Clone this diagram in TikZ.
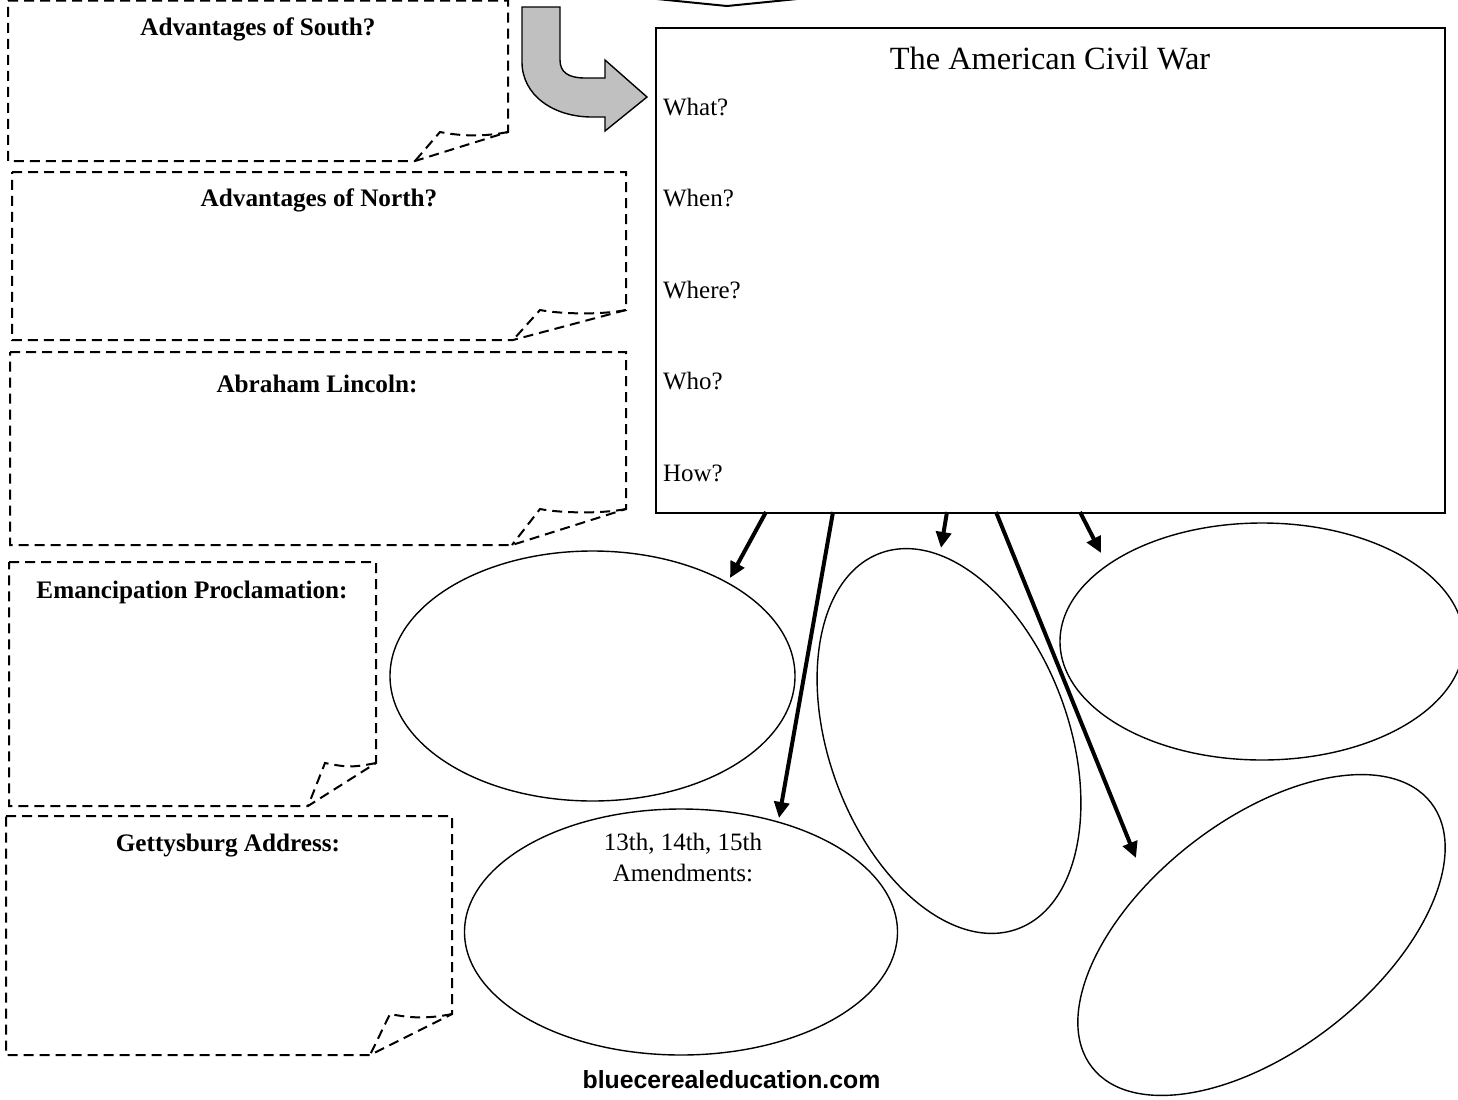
\documentclass[tikz,border=0pt]{standalone}
\usepackage{fontspec}
\setmainfont{Liberation Serif}
\newfontfamily\webfont{Liberation Sans}
\usetikzlibrary{arrows.meta,shapes.geometric}
\definecolor{curlgray}{HTML}{C0C0C0}

% dashed note with a folded corner: x0,y0,x1,y1, fold y, fold x, flap x
\newcommand{\notebox}[7]{%
  \draw[note] (#1,#2) -- (#3,#2) -- (#3,#5) -- (#6,#4) -- (#1,#4) -- cycle;
  \draw[note] (#3,#5) .. controls +(-25,5) and +(20,4) .. (#7,#5) -- (#6,#4);
}

\begin{document}
\begin{tikzpicture}[x=0.5pt,y=-0.5pt,
  note/.style={line width=1pt,dash pattern=on 5pt off 3pt},
  oval/.style={draw,ellipse,line width=0.7pt,inner sep=0pt},
  head/.style={font=\bfseries\fontsize{12.6}{15}\selectfont},
  ask/.style={anchor=west,font=\fontsize{12.5}{15}\selectfont},
  spoke/.style={line width=2pt,-{Triangle[length=8pt,width=7.5pt]}}]
  \useasboundingbox (0,0) rectangle (1458,1099);

  % left hand notes
  \notebox{8}{0.5}{508}{161}{132}{415}{440}
  \notebox{12}{172}{626}{340}{310}{513}{540}
  \notebox{10}{352}{626}{545}{509}{512}{540}
  \notebox{9}{562}{376}{806}{763}{308}{325}
  \notebox{6}{816}{452}{1055}{1014}{370}{390}
  \node[head] (south) at (258,29) {Advantages of South?};
  \node[head] (north) at (319,200) {Advantages of North?};
  \node[head] (lincoln) at (317,384) {Abraham Lincoln:};
  \node[head] (eman) at (192,592) {Emancipation Proclamation:};
  \node[head] (gettys) at (228,846) {Gettysburg Address:};

  % bit of a shape cut off at the top
  \draw[line width=1pt] (657,-1) -- (727,6) -- (797,-1);

  % curled arrow
  \draw[fill=curlgray,line width=0.7pt] (522,7) -- (560,7) -- (560,60)
    .. controls (560,72) and (568,78) .. (585,78) -- (605,78) -- (605,60)
    -- (647,97) -- (605,131) -- (605,117) -- (592,117)
    .. controls (553,117) and (522,95) .. (522,62) -- cycle;

  % main box
  \node[draw,line width=1pt,minimum width=394.5pt,minimum height=242.5pt,
    anchor=north west,inner sep=0pt] (war) at (655,27) {};
  \node[font=\fontsize{16.2}{19}\selectfont] (title) at (1050,58) {The American Civil War};
  \node[ask] (what) at (656,107) {What?};
  \node[ask] (when) at (656,198) {When?};
  \node[ask] (where) at (656,290) {Where?};
  \node[ask] (who) at (656,381) {Who?};
  \node[ask] (how) at (656,473) {How?};

  % ovals
  \node[oval,minimum width=202.5pt,minimum height=125pt] (e1) at (592.5,676) {};
  \node[oval,minimum width=216.5pt,minimum height=123pt] (e2) at (681,932) {};
  \node[oval,rotate=20,minimum width=120pt,minimum height=200pt] (e3) at (949,741) {};
  \node[oval,minimum width=202pt,minimum height=118.5pt] (e4) at (1262,641.5) {};
  \node[oval,rotate=38,minimum width=215pt,minimum height=115pt] (e5) at (1261.5,935) {};
  \node[align=center,font=\fontsize{12.5}{15.5}\selectfont] (amend) at (683,857)
    {13th, 14th, 15th\\Amendments:};

  % spokes
  \coordinate (s1) at (766,512);  \coordinate (t1) at (730,578);
  \coordinate (s2) at (833,512);  \coordinate (t2) at (779,818);
  \coordinate (s3) at (947,512);  \coordinate (t3) at (941,548);
  \coordinate (s4) at (996,512);  \coordinate (t4) at (1136,858);
  \coordinate (s5) at (1080,512); \coordinate (t5) at (1101,553);
  \foreach \i in {1,...,5}
    \draw[spoke] (s\i) -- (t\i);

  \node[font=\webfont\bfseries\fontsize{12.4}{15}\selectfont] (site) at (731.5,1080)
    {bluecerealeducation.com};
\end{tikzpicture}
\end{document}
